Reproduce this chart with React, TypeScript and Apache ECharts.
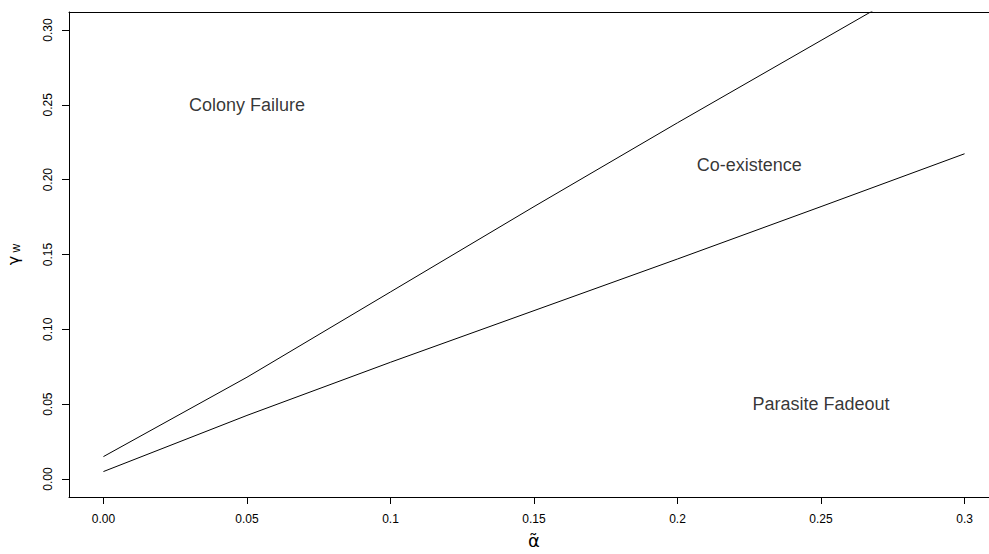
import React, { useEffect, useRef } from "react";
import * as echarts from "echarts";

// Parameter grid (alpha-tilde) and the two boundary curves (gamma_w)
const alphaValues = [0, 0.05, 0.1, 0.15, 0.2, 0.25, 0.3];
const upperBoundary = [0.015, 0.068, 0.125, 0.182, 0.238, 0.293, 0.348];
const lowerBoundary = [0.005, 0.0425, 0.078, 0.1125, 0.147, 0.182, 0.2173];

// Axis ranges (data range padded by 4%) and tick labels
const xRange = [-0.012, 0.312];
const yRange = [-0.012, 0.312];
const xTicks = [0, 0.05, 0.1, 0.15, 0.2, 0.25, 0.3];
const xTickLabels = ["0.00", "0.05", "0.1", "0.15", "0.2", "0.25", "0.3"];
const yTicks = [0, 0.05, 0.1, 0.15, 0.2, 0.25, 0.3];
const yTickLabels = ["0.00", "0.05", "0.10", "0.15", "0.20", "0.25", "0.30"];

// Region annotations placed in data coordinates
const regionNames = ["Colony Failure", "Co-existence", "Parasite Fadeout"];
const regionX = [0.05, 0.225, 0.25];
const regionY = [0.25, 0.21, 0.05];

const FONT = "'Liberation Sans', Arial, Helvetica, sans-serif";
const GREEK = "'DejaVu Sans', 'Liberation Sans', sans-serif";

const lookup = (ticks: number[], labels: string[]) => (v: number) => {
  const i = ticks.findIndex((t) => Math.abs(t - v) < 1e-9);
  return i >= 0 ? labels[i] : "";
};

export default function App() {
  const ref = useRef<HTMLDivElement>(null);

  useEffect(() => {
    if (!ref.current) return;
    const chart = echarts.init(ref.current, undefined, { renderer: "svg" });

    const toPairs = (ys: number[]) => alphaValues.map((x, i) => [x, ys[i]]);

    const blackLine = { show: true, onZero: false, lineStyle: { color: "#000", width: 1 } };

    chart.setOption({
      animation: false,
      backgroundColor: "#ffffff",
      textStyle: { fontFamily: FONT },
      grid: {
        left: 69,
        top: 12,
        width: 930,
        height: 485,
        outerBoundsMode: "none",
        containLabel: false,
        show: false,
      },
      xAxis: [
        {
          type: "value",
          min: xRange[0],
          max: xRange[1],
          name: "α\u0303",
          nameLocation: "middle",
          nameGap: 34,
          nameTextStyle: {
            color: "#000",
            fontFamily: GREEK,
            fontSize: 18,
            align: "center",
          },
          axisLine: blackLine,
          axisTick: {
            show: true,
            inside: false,
            length: 7,
            customValues: xTicks,
            lineStyle: { color: "#000" },
          },
          axisLabel: {
            show: true,
            customValues: xTicks,
            formatter: lookup(xTicks, xTickLabels),
            margin: 16,
            fontSize: 12,
            color: "#000",
            fontFamily: FONT,
          },
          splitLine: { show: false },
        },
        {
          // top edge of the plot box
          type: "value",
          position: "top",
          min: xRange[0],
          max: xRange[1],
          axisLine: blackLine,
          axisTick: { show: false },
          axisLabel: { show: false },
          splitLine: { show: false },
        },
      ],
      yAxis: {
        type: "value",
        min: yRange[0],
        max: yRange[1],
        name: "{g|γ}{s| w}",
        nameLocation: "middle",
        nameRotate: 90,
        nameGap: 47,
        nameTextStyle: {
          color: "#000",
          fontFamily: FONT,
          rich: {
            g: { fontSize: 16, color: "#000", fontFamily: GREEK },
            s: { fontSize: 12, color: "#000", fontFamily: FONT, padding: [6, 0, 0, 0] },
          },
        },
        axisLine: blackLine,
        axisTick: {
          show: true,
          inside: false,
          length: 7,
          customValues: yTicks,
          lineStyle: { color: "#000" },
        },
        axisLabel: {
          show: true,
          customValues: yTicks,
          formatter: lookup(yTicks, yTickLabels),
          rotate: 90,
          margin: 15,
          fontSize: 12,
          color: "#000",
          fontFamily: FONT,
        },
        splitLine: { show: false },
      },
      series: [
        {
          type: "line",
          data: toPairs(upperBoundary),
          showSymbol: false,
          symbol: "none",
          clip: true,
          lineStyle: { color: "#000", width: 1 },
          silent: true,
        },
        {
          type: "line",
          data: toPairs(lowerBoundary),
          showSymbol: false,
          symbol: "none",
          clip: true,
          lineStyle: { color: "#000", width: 1 },
          silent: true,
        },
        {
          type: "scatter",
          symbolSize: 0,
          silent: true,
          data: regionNames.map((n, i) => ({ name: n, value: [regionX[i], regionY[i]] })),
          label: {
            show: true,
            position: "inside",
            formatter: (p: any) => p.name,
            fontSize: 18,
            color: "#000",
            fontFamily: FONT,
          },
        },
      ],
    });

    return () => chart.dispose();
  }, []);

  return (
    <div
      ref={ref}
      style={{
        position: "fixed",
        left: 0,
        top: 0,
        width: 989,
        height: 554,
        background: "#fff",
      }}
    />
  );
}
